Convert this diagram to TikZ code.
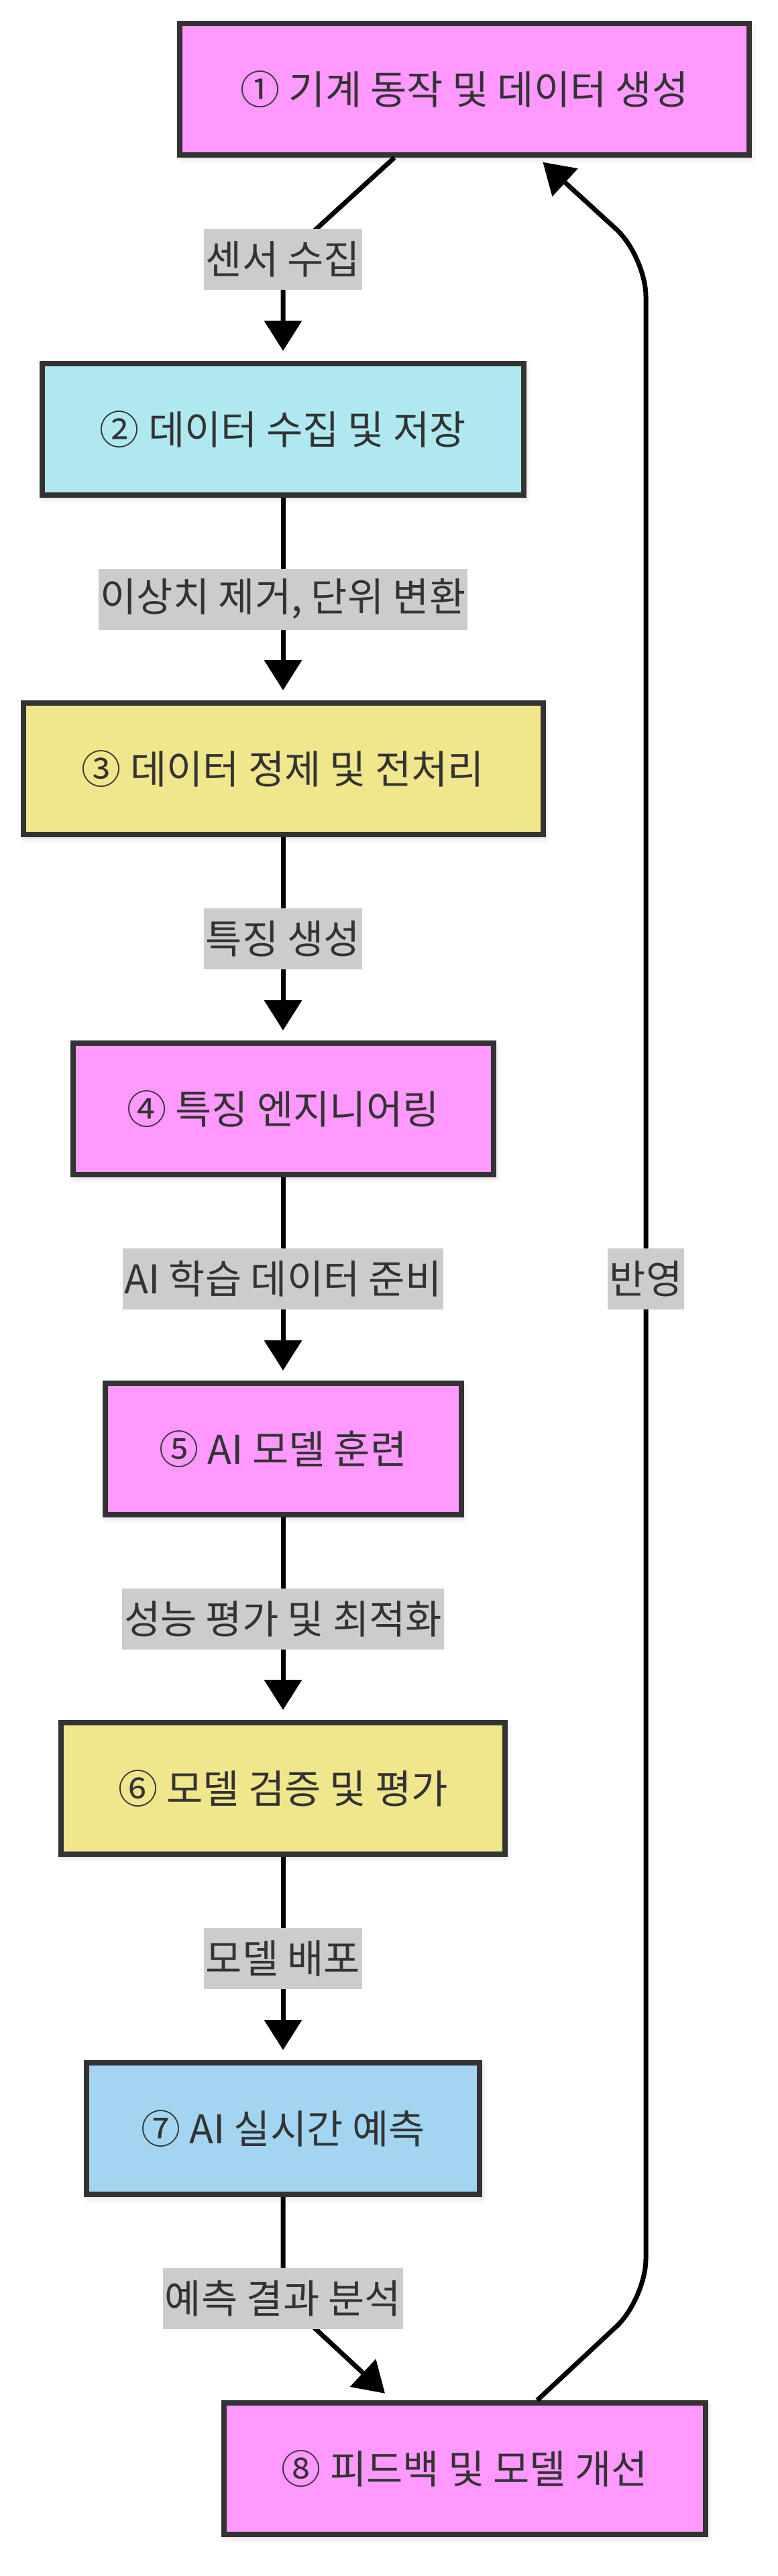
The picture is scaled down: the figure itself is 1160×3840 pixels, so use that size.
\documentclass[tikz,border=0pt]{standalone}
\usepackage{fontspec}
\setmainfont{Noto Sans CJK KR}
\usetikzlibrary{arrows.meta, shadows.blur}
\definecolor{stepPink}{HTML}{FF99FF}
\definecolor{stepCyan}{HTML}{AFE9EF}
\definecolor{stepKhaki}{HTML}{F0E68C}
\definecolor{stepBlue}{HTML}{A3D5F1}
\definecolor{tagGray}{HTML}{CCCCCC}
\definecolor{inkGray}{HTML}{333333}
\tikzstyle{stage} = [draw=inkGray, line width=4pt, minimum height=98pt, text=inkGray, font=\fontsize{29.5}{35}\selectfont, blur shadow={shadow xshift=1.5pt, shadow yshift=-2.5pt, shadow blur radius=4pt, shadow opacity=18}]
\tikzstyle{tag}   = [fill=tagGray, text=inkGray, inner xsep=1.5pt, inner ysep=0pt, minimum height=45.5pt, font=\fontsize{29.5}{35}\selectfont]
\tikzstyle{flow}  = [line width=3.5pt, -{Triangle[width=27.5pt, length=22.5pt]}, shorten >=7.5pt]

\begin{document}
\begin{tikzpicture}[x=0.5pt, y=-0.5pt]
    \useasboundingbox (0,0) rectangle (1160,3840);

    % stages
    \node[stage, fill=stepPink,  minimum width=424.5pt] (b1) at (692.5,133) {① 기계 동작 및 데이터 생성};
    \node[stage, fill=stepCyan,  minimum width=359pt]   (b2) at (422,640)   {② 데이터 수집 및 저장};
    \node[stage, fill=stepKhaki, minimum width=387.5pt] (b3) at (422,1146)  {③ 데이터 정제 및 전처리};
    \node[stage, fill=stepPink,  minimum width=313.5pt] (b4) at (422,1653)  {④ 특징 엔지니어링};
    \node[stage, fill=stepPink,  minimum width=265.5pt] (b5) at (422,2160)  {⑤ AI 모델 훈련};
    \node[stage, fill=stepKhaki, minimum width=331pt]   (b6) at (422,2666)  {⑥ 모델 검증 및 평가};
    \node[stage, fill=stepBlue,  minimum width=293pt]   (b7) at (422,3173)  {⑦ AI 실시간 예측};
    \node[stage, fill=stepPink,  minimum width=359pt]   (b8) at (693,3680)  {⑧ 피드백 및 모델 개선};

    % bends
    \coordinate (k1) at (422,386.5);
    \coordinate (k7) at (422,3426.5);
    \coordinate (r1) at (963,3427);
    \coordinate (r2) at (963,382);

    \draw[flow] ([xshift=-52.25pt]b1.south) -- (k1) -- (b2);

    \foreach \a/\b/\txt in {b2/b3/{이상치 제거, 단위 변환}, b3/b4/특징 생성, b4/b5/AI 학습 데이터 준비, b5/b6/성능 평가 및 최적화, b6/b7/모델 배포} {
        \draw[flow] (\a) -- node[tag] {\txt} (\b);
    }

    \draw[flow] (b7) -- (k7) -- ([xshift=-54pt]b8.north);

    \draw[flow, rounded corners=30pt, shorten >=5pt] ([xshift=54pt]b8.north) -- (r1) -- (r2) -- ([xshift=54.75pt]b1.south);

    \node[tag] (l1) at (k1) {센서 수집};
    \node[tag] (l7) at (k7) {예측 결과 분석};
    \node[tag] (lr) at (963,1906) {반영};

\end{tikzpicture}
\end{document}
